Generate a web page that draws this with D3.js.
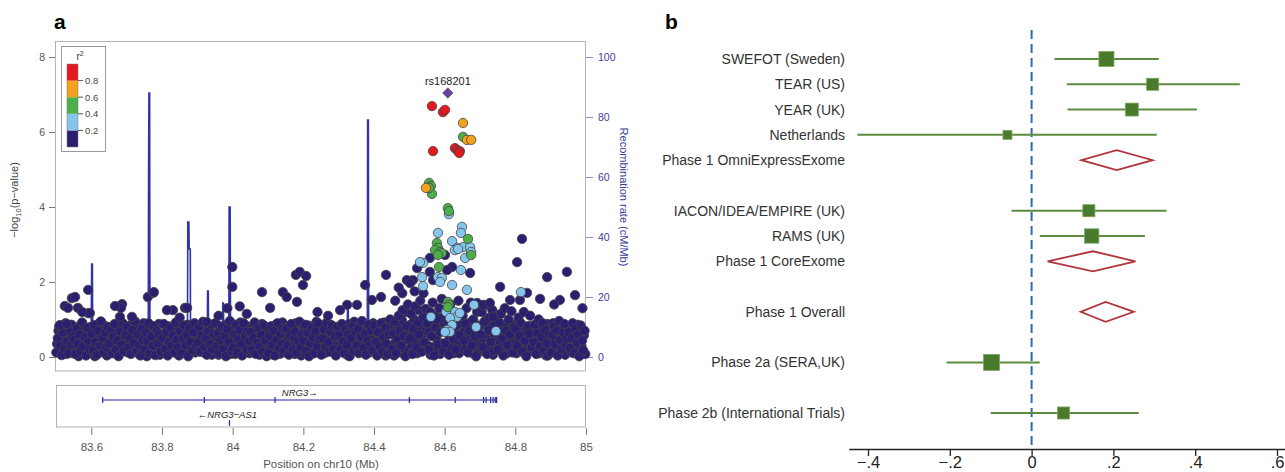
<!DOCTYPE html>
<html>
<head>
<meta charset="utf-8">
<script src="https://cdn.jsdelivr.net/npm/d3@7"></script>
<style>
  body { margin: 0; background: #fff; }
  svg { display: block; font-family: "Liberation Sans", Arial, sans-serif; }
</style>
</head>
<body>
<svg id="chart" width="1285" height="472"></svg>
<script>
// ---------- panel a : regional association plot ----------
const yTicks = [0, 2, 4, 6, 8];
const recTicks = [0, 20, 40, 60, 80, 100];
const posTicks = [83.6, 83.8, 84, 84.2, 84.4, 84.6, 84.8, 85];
const ldBreaks = [0.2, 0.4, 0.6, 0.8];
const ldColors = ['#2b1f72', '#87c6ec', '#4daf4a', '#f4a21d', '#e3191f'];

// recombination rate (cM/Mb) along chr10 (Mb)
const recomb = [
  [83.500, 1], [83.520, 2], [83.545, 0.5], [83.570, 1], [83.599, 1], [83.600, 15], [83.601, 31], [83.603, 31], [83.604, 1],
  [83.630, 0.5], [83.660, 1], [83.700, 1.5], [83.730, 1], [83.761, 1], [83.762, 60], [83.763, 88], [83.765, 88], [83.766, 1],
  [83.800, 1], [83.840, 1.5], [83.872, 1], [83.873, 45], [83.876, 45], [83.877, 36], [83.880, 36], [83.881, 1],
  [83.900, 1], [83.928, 1], [83.929, 22], [83.931, 22], [83.932, 1], [83.950, 1], [83.971, 1], [83.972, 18], [83.974, 18], [83.975, 1],
  [83.989, 1], [83.990, 50], [83.993, 50], [83.994, 1], [84.020, 1], [84.060, 1.5], [84.100, 1], [84.150, 2], [84.200, 1],
  [84.250, 1], [84.300, 1], [84.324, 1], [84.325, 16], [84.327, 16], [84.328, 1], [84.360, 1], [84.381, 1], [84.382, 79], [84.384, 79], [84.385, 1],
  [84.420, 1], [84.460, 2], [84.500, 3], [84.550, 4], [84.600, 5], [84.650, 8], [84.700, 5], [84.750, 3], [84.800, 2],
  [84.850, 1], [84.900, 1], [84.950, 2], [85.000, 1]
];

// low-LD SNPs forming the dense band: segment start, offsets inside each segment, -log10 p per SNP
const bandStarts = [83.50, 83.55, 83.60, 83.65, 83.70, 83.75, 83.80, 83.85, 83.90, 83.95,
  84.00, 84.05, 84.10, 84.15, 84.20, 84.25, 84.30, 84.35, 84.40, 84.45,
  84.50, 84.55, 84.60, 84.65, 84.70, 84.75, 84.80, 84.85, 84.90, 84.95];
const bandOffsets = [0.001, 0.005, 0.009, 0.012, 0.016, 0.020, 0.024, 0.027, 0.031, 0.035, 0.039, 0.042, 0.046];
const bandOffsets2 = [0.003, 0.007, 0.010, 0.014, 0.018, 0.022, 0.026, 0.029, 0.033, 0.037, 0.041, 0.044, 0.048];
const bandValues = [
  [0.12, 0.5, 0.82, 0.3, 0.05, 0.65, 0.22, 0.9, 0.42, 0.1, 0.7, 0.33, 0.55],
  [0.45, 0.08, 0.75, 0.35, 0.6, 0.15, 0.92, 0.28, 0.52, 0.04, 0.78, 0.4, 0.2],
  [0.62, 0.18, 0.85, 0.4, 0.06, 0.7, 0.3, 0.95, 0.5, 0.12, 0.66, 0.25, 0.8],
  [0.35, 0.72, 0.1, 0.55, 0.88, 0.2, 0.45, 0.02, 0.68, 0.32, 0.9, 0.15, 0.58],
  [0.8, 0.25, 0.5, 0.08, 0.72, 0.38, 0.95, 0.16, 0.6, 0.3, 0.04, 0.75, 0.45],
  [0.2, 0.65, 0.42, 0.9, 0.1, 0.55, 0.3, 0.82, 0.05, 0.7, 0.36, 0.6, 0.14],
  [0.5, 0.88, 0.22, 0.66, 0.04, 0.4, 0.78, 0.3, 0.58, 0.12, 0.92, 0.46, 0.26],
  [0.7, 0.1, 0.48, 0.84, 0.32, 0.6, 0.02, 0.76, 0.4, 0.18, 0.66, 0.9, 0.28],
  [0.38, 0.8, 0.15, 0.58, 0.94, 0.26, 0.5, 0.06, 0.7, 0.34, 0.86, 0.2, 0.62],
  [0.9, 0.3, 0.64, 0.1, 0.46, 0.8, 0.22, 0.56, 0.02, 0.74, 0.4, 0.96, 0.16],
  [0.25, 0.6, 0.86, 0.12, 0.48, 0.72, 0.34, 0.04, 0.9, 0.54, 0.2, 0.68, 0.42],
  [0.66, 0.2, 0.5, 0.92, 0.08, 0.38, 0.78, 0.28, 0.6, 0.14, 0.84, 0.44, 0.02],
  [0.1, 0.56, 0.82, 0.32, 0.7, 0.04, 0.46, 0.9, 0.24, 0.62, 0.36, 0.76, 0.18],
  [0.74, 0.3, 0.06, 0.58, 0.88, 0.2, 0.5, 0.68, 0.12, 0.42, 0.94, 0.26, 0.6],
  [0.44, 0.86, 0.16, 0.64, 0.02, 0.36, 0.78, 0.52, 0.1, 0.7, 0.28, 0.9, 0.48],
  [0.06, 0.5, 0.72, 0.26, 0.92, 0.4, 0.14, 0.66, 0.84, 0.22, 0.56, 0.04, 0.8],
  [0.58, 0.2, 0.88, 0.42, 0.1, 0.74, 0.32, 0.6, 0.02, 0.5, 0.82, 0.16, 0.68],
  [0.3, 0.76, 0.12, 0.54, 0.96, 0.24, 0.62, 0.06, 0.44, 0.86, 0.34, 0.7, 0.18],
  [0.84, 0.4, 0.04, 0.66, 0.28, 0.9, 0.14, 0.52, 0.78, 0.36, 0.08, 0.6, 1.0],
  [0.22, 0.62, 0.94, 0.1, 0.48, 1.1, 0.7, 0.3, 1.25, 0.56, 0.02, 0.82, 1.4],
  [0.5, 1.15, 0.08, 0.76, 1.35, 0.26, 0.92, 0.6, 1.5, 0.14, 1.05, 0.4, 1.28],
  [0.9, 0.2, 1.2, 0.56, 1.45, 0.04, 0.8, 1.0, 0.34, 1.3, 0.66, 1.55, 0.16],
  [0.36, 1.25, 0.7, 0.06, 1.4, 0.98, 0.48, 1.12, 0.2, 0.86, 1.5, 0.58, 1.0],
  [1.1, 0.44, 0.88, 1.3, 0.12, 0.7, 1.45, 0.3, 1.0, 0.56, 0.02, 1.2, 0.8],
  [0.6, 1.2, 0.26, 0.94, 1.38, 0.08, 0.72, 1.05, 0.4, 1.25, 0.16, 0.84, 1.1],
  [0.2, 0.92, 1.15, 0.5, 0.04, 1.3, 0.7, 0.32, 1.0, 0.6, 1.22, 0.12, 0.8],
  [0.74, 0.3, 1.05, 0.56, 0.9, 0.14, 1.2, 0.44, 0.02, 0.82, 0.62, 1.1, 0.26],
  [0.4, 0.86, 0.08, 0.64, 1.0, 0.28, 0.52, 0.9, 0.16, 0.72, 0.36, 0.04, 0.6],
  [0.12, 0.58, 0.82, 0.34, 0.7, 0.04, 0.96, 0.46, 0.22, 0.66, 0.88, 0.3, 0.5],
  [0.66, 0.24, 0.5, 0.9, 0.1, 0.76, 0.38, 0.6, 0.02, 0.84, 0.44, 0.18, 0.7]
];
const bandValues2 = [
  [0.35, 0.7, 0.15, 0.6, 0.25, 0.45, 0.78, 0.08, 0.62, 0.2, 0.5, 0.86, 0.1],
  [0.66, 0.26, 0.52, 0.02, 0.84, 0.38, 0.6, 0.12, 0.72, 0.3, 0.58, 0.18, 0.8],
  [0.28, 0.5, 0.02, 0.62, 0.3, 0.9, 0.16, 0.7, 0.24, 0.84, 0.44, 0.04, 0.56],
  [0.8, 0.2, 0.48, 0.3, 0.64, 0.08, 0.84, 0.4, 0.14, 0.56, 0.2, 0.74, 0.36],
  [0.12, 0.56, 0.84, 0.3, 0.46, 0.14, 0.62, 0.44, 0.84, 0.06, 0.56, 0.28, 0.9],
  [0.5, 0.02, 0.76, 0.22, 0.68, 0.38, 0.12, 0.54, 0.42, 0.22, 0.88, 0.06, 0.44],
  [0.18, 0.64, 0.48, 0.12, 0.82, 0.58, 0.2, 0.66, 0.36, 0.8, 0.26, 0.7, 0.04],
  [0.34, 0.56, 0.2, 0.62, 0.14, 0.86, 0.44, 0.24, 0.6, 0.82, 0.3, 0.12, 0.5],
  [0.6, 0.14, 0.44, 0.3, 0.72, 0.1, 0.84, 0.36, 0.22, 0.58, 0.06, 0.44, 0.88],
  [0.2, 0.52, 0.06, 0.82, 0.28, 0.12, 0.68, 0.34, 0.86, 0.24, 0.62, 0.08, 0.5],
  [0.7, 0.08, 0.4, 0.56, 0.22, 0.92, 0.12, 0.64, 0.32, 0.14, 0.82, 0.36, 0.1],
  [0.34, 0.8, 0.12, 0.44, 0.66, 0.2, 0.06, 0.6, 0.88, 0.4, 0.24, 0.66, 0.5],
  [0.72, 0.28, 0.42, 0.06, 0.54, 0.86, 0.22, 0.64, 0.08, 0.44, 0.92, 0.12, 0.56],
  [0.4, 0.62, 0.82, 0.2, 0.34, 0.66, 0.08, 0.9, 0.56, 0.24, 0.6, 0.04, 0.84],
  [0.12, 0.6, 0.36, 0.84, 0.26, 0.56, 0.1, 0.72, 0.32, 0.94, 0.5, 0.16, 0.66],
  [0.76, 0.28, 0.1, 0.58, 0.62, 0.2, 0.86, 0.32, 0.46, 0.72, 0.1, 0.36, 0.52],
  [0.2, 0.7, 0.46, 0.64, 0.22, 0.5, 0.04, 0.88, 0.3, 0.18, 0.62, 0.94, 0.4],
  [0.62, 0.1, 0.4, 0.84, 0.2, 0.74, 0.44, 0.28, 0.8, 0.12, 0.56, 0.46, 0.9],
  [0.24, 0.66, 0.76, 0.12, 0.56, 0.3, 0.62, 0.92, 0.04, 0.6, 0.8, 0.26, 0.3],
  [0.6, 0.04, 0.38, 0.74, 0.86, 0.3, 0.12, 0.98, 0.7, 0.2, 1.2, 0.46, 0.66],
  [0.86, 0.3, 0.64, 1.0, 0.46, 0.1, 1.25, 0.32, 0.82, 0.6, 0.24, 0.96, 0.7],
  [0.3, 0.7, 0.06, 0.96, 0.26, 1.1, 0.5, 0.2, 0.72, 0.08, 1.05, 0.36, 0.9],
  [0.82, 0.12, 0.9, 0.5, 0.26, 0.68, 0.1, 0.82, 0.64, 0.34, 0.1, 0.86, 0.24],
  [0.2, 0.72, 0.3, 0.58, 0.9, 0.38, 0.8, 0.1, 0.66, 0.26, 0.84, 0.46, 0.14],
  [0.3, 0.86, 0.5, 0.14, 0.6, 1.02, 0.3, 0.46, 0.86, 0.06, 0.58, 0.4, 0.92],
  [0.6, 0.4, 0.16, 0.82, 0.3, 0.66, 0.1, 0.9, 0.44, 0.22, 0.5, 0.86, 0.36],
  [0.1, 0.58, 0.46, 0.16, 0.62, 0.34, 0.76, 0.22, 0.68, 0.4, 0.16, 0.82, 0.48],
  [0.7, 0.2, 0.56, 0.36, 0.1, 0.78, 0.18, 0.34, 0.6, 0.04, 0.88, 0.5, 0.26],
  [0.44, 0.9, 0.2, 0.58, 0.12, 0.4, 0.62, 0.14, 0.8, 0.36, 0.06, 0.62, 0.8],
  [0.3, 0.82, 0.12, 0.36, 0.56, 0.28, 0.86, 0.14, 0.46, 0.3, 0.7, 0.58, 0.08]
];

// scattered low-LD SNPs above the band
const navyHigh = [
  [83.545, 1.57], [83.525, 1.36], [83.534, 1.31], [83.562, 1.31], [83.591, 1.79], [83.591, 1.17], [83.596, 1.17],
  [83.511, 0.85], [83.531, 0.88], [83.574, 1.2], [83.554, 1.6],
  [83.760, 1.6], [83.775, 1.71], [83.777, 1.73], [83.687, 1.41], [83.684, 1.31], [83.681, 1.07], [83.715, 1.07], [83.667, 1.36],
  [83.865, 1.31], [83.831, 1.25], [83.814, 1.25], [83.871, 1.31], [83.927, 0.93], [83.85, 1.05],
  [83.999, 2.4], [83.999, 1.87], [83.985, 1.3], [83.96, 1.1], [84.02, 1.35], [84.04, 1.15],
  [84.083, 1.73], [84.106, 1.31], [84.142, 1.73], [84.153, 1.6], [84.182, 1.47], [84.199, 1.92],
  [84.179, 2.19], [84.19, 2.27], [84.208, 2.16], [84.24, 1.2], [84.27, 1.1],
  [84.304, 1.25], [84.324, 1.39], [84.352, 1.39], [84.375, 1.92], [84.394, 1.52], [84.434, 2.19], [84.42, 1.6],
  [84.558, 2.64], [84.522, 2.37], [84.493, 2.05], [84.51, 2.05], [84.502, 1.97], [84.558, 2.27], [84.567, 2.05],
  [84.601, 2.72], [84.621, 2.4], [84.607, 2.32], [84.672, 2.24], [84.692, 1.44], [84.709, 1.39], [84.728, 1.44],
  [84.757, 1.87], [84.737, 1.07], [84.785, 1.52], [84.813, 1.52], [84.833, 1.71], [84.819, 3.15], [84.805, 2.53],
  [84.89, 2.13], [84.48, 1.7], [84.47, 1.85], [84.515, 1.75], [84.54, 1.7], [84.46, 1.5],
  [84.946, 2.27], [84.969, 1.65], [84.926, 1.52], [84.91, 1.4], [84.99, 1.3], [84.87, 1.55]
];

const ltBluePts = [
  [84.612, 3.81], [84.649, 3.47], [84.646, 3.31], [84.581, 3.31], [84.621, 3.09], [84.635, 2.91], [84.652, 2.93],
  [84.672, 2.93], [84.675, 2.80], [84.629, 2.85], [84.638, 2.88], [84.658, 2.64], [84.646, 2.32], [84.539, 2.51],
  [84.530, 2.53], [84.536, 2.13], [84.539, 1.89], [84.581, 2.13], [84.592, 2.11], [84.587, 2.0], [84.621, 1.92],
  [84.663, 1.79], [84.683, 1.39], [84.561, 1.07], [84.629, 1.2], [84.635, 1.07], [84.643, 1.17], [84.604, 1.2],
  [84.615, 1.04], [84.621, 0.85], [84.607, 0.72], [84.615, 0.67], [84.601, 0.67], [84.689, 0.8], [84.745, 0.69],
  [84.816, 1.73]
];
const greenPts = [
  [84.652, 5.87], [84.556, 4.64], [84.561, 4.56], [84.564, 4.35], [84.556, 4.51], [84.609, 3.97], [84.612, 3.89],
  [84.666, 3.15], [84.675, 2.72], [84.578, 3.04], [84.581, 2.91], [84.573, 2.85], [84.587, 2.80], [84.592, 2.77],
  [84.581, 2.72], [84.584, 2.40], [84.609, 1.47], [84.612, 1.39], [84.609, 1.33]
];
const orangePts = [[84.652, 6.24], [84.663, 5.79], [84.675, 5.79], [84.547, 4.51]];
const redPts = [
  [84.564, 6.69], [84.595, 6.53], [84.601, 6.59], [84.567, 5.49], [84.629, 5.57], [84.635, 5.52], [84.643, 5.49], [84.641, 5.44]
];
const indexSnp = { name: 'rs168201', pos: 84.609, logp: 7.04 };

const genes = [
  { name: 'NRG3', start: 83.632, end: 84.747, exons: [83.632, 83.92, 84.12, 84.50, 84.63, 84.71, 84.717, 84.73, 84.737, 84.743, 84.747], dir: 1, label: 84.19 },
  { name: 'NRG3\u2212AS1', start: 83.990, end: 83.992, exons: [83.991], dir: -1, label: 83.985 }
];

// ---------- panel b : forest plot ----------
const studies = ['SWEFOT (Sweden)', 'TEAR (US)', 'YEAR (UK)', 'Netherlands', 'Phase 1 OmniExpressExome',
  'IACON/IDEA/EMPIRE (UK)', 'RAMS (UK)', 'Phase 1 CoreExome', 'Phase 1 Overall', 'Phase 2a (SERA,UK)',
  'Phase 2b (International Trials)'];
const studyRow = [0, 1, 2, 3, 4, 6, 7, 8, 10, 12, 14];
const estimate = [0.183, 0.296, 0.245, -0.059, 0.208, 0.14, 0.147, 0.15, 0.181, -0.098, 0.078];
const ciLow = [0.056, 0.086, 0.088, -0.426, 0.122, -0.049, 0.02, 0.039, 0.12, -0.208, -0.1];
const ciHigh = [0.311, 0.509, 0.404, 0.306, 0.296, 0.33, 0.277, 0.254, 0.25, 0.02, 0.262];
const isPooled = [false, false, false, false, true, false, false, true, true, false, false];
const studyWeight = [21, 13.5, 15.5, 7.5, 0, 13.5, 19, 0, 0, 24, 13.5];
const effectTicks = [-0.4, -0.2, 0, 0.2, 0.4, 0.6];

// ---------- drawing ----------
const svg = d3.select('#chart');

// panel letters
svg.append('text').attr('x', 54).attr('y', 29).attr('font-size', 21).attr('font-weight', 'bold').text('a');
svg.append('text').attr('x', 665).attr('y', 29).attr('font-size', 21).attr('font-weight', 'bold').text('b');

const x = d3.scaleLinear().domain([83.5, 85]).range([56, 586]);
const y = d3.scaleLinear().domain([0, 8]).range([357, 57]);
const yR = d3.scaleLinear().domain([0, 100]).range([357, 57]);

const pa = svg.append('g');

// frame
pa.append('rect').attr('x', 55.5).attr('y', 41.5).attr('width', 530).attr('height', 329.5)
  .attr('fill', 'none').attr('stroke', '#b3b3b3');

// left axis
const gl = pa.append('g').attr('transform', 'translate(55,0)')
  .call(d3.axisLeft(y).tickValues(yTicks).tickSize(6).tickPadding(4));
gl.select('.domain').remove();
gl.selectAll('line').attr('stroke', '#777');
gl.selectAll('text').attr('font-size', 10.5).attr('fill', '#555').attr('font-family', 'Liberation Sans, Arial, sans-serif');

// right axis
const gr = pa.append('g').attr('transform', 'translate(586,0)')
  .call(d3.axisRight(yR).tickValues(recTicks).tickSize(7).tickPadding(5));
gr.select('.domain').remove();
gr.selectAll('line').attr('stroke', '#8b8bc8');
gr.selectAll('text').attr('font-size', 10.5).attr('fill', '#3c3ca0').attr('font-family', 'Liberation Sans, Arial, sans-serif');

// axis titles
const yt = pa.append('text').attr('transform', 'translate(18,200) rotate(-90)')
  .attr('text-anchor', 'middle').attr('font-size', 11).attr('fill', '#444');
yt.append('tspan').text('\u2212log');
yt.append('tspan').attr('font-size', 7.5).attr('dy', 3).text('10');
yt.append('tspan').attr('dy', -3).text('(p\u2212value)');

pa.append('text').attr('transform', 'translate(620,197) rotate(90)')
  .attr('text-anchor', 'middle').attr('font-size', 11).attr('fill', '#3c3ca0')
  .text('Recombination rate (cM/Mb)');

// recombination line
pa.append('path').datum(recomb)
  .attr('fill', 'none').attr('stroke', '#2f33a6').attr('stroke-width', 1.6)
  .attr('d', d3.line().x(d => x(d[0])).y(d => yR(d[1])));

// SNPs
const band1 = bandStarts.flatMap((s, i) => bandValues[i].map((v, j) => [s + bandOffsets[j], v]));
const band2 = bandStarts.flatMap((s, i) => bandValues2[i].map((v, j) => [s + bandOffsets2[j], v]));
const navyPts = band2.concat(band1, navyHigh);
const layers = [
  [navyPts, ldColors[0]], [ltBluePts, ldColors[1]], [greenPts, ldColors[2]],
  [orangePts, ldColors[3]], [redPts, ldColors[4]]
];
layers.forEach(([pts, col]) => {
  pa.append('g').selectAll('circle').data(pts).join('circle')
    .attr('cx', d => x(d[0])).attr('cy', d => y(d[1])).attr('r', 4.7)
    .attr('fill', col).attr('stroke', '#444').attr('stroke-width', 0.8);
});

// index SNP
pa.append('path')
  .attr('d', d3.symbol().type(d3.symbolDiamond2).size(70)())
  .attr('transform', `translate(${x(indexSnp.pos)},${y(indexSnp.logp)})`)
  .attr('fill', '#6b3fa0').attr('stroke', '#444').attr('stroke-width', 0.6);
pa.append('text').attr('x', x(indexSnp.pos)).attr('y', y(indexSnp.logp) - 8)
  .attr('text-anchor', 'middle').attr('font-size', 11).attr('fill', '#222').text(indexSnp.name);

// legend
const lg = pa.append('g');
lg.append('rect').attr('x', 61.5).attr('y', 46.5).attr('width', 44).attr('height', 105)
  .attr('fill', '#fff').attr('stroke', '#999');
lg.append('text').attr('x', 80).attr('y', 60).attr('text-anchor', 'middle').attr('font-size', 10).attr('fill', '#333')
  .text('r').append('tspan').attr('font-size', 7).attr('dy', -4).text('2');
const ly = d3.scaleLinear().domain([0, 1]).range([147, 64]);
lg.selectAll('rect.c').data(ldColors).join('rect').attr('class', 'c')
  .attr('x', 67).attr('y', (d, i) => ly((i + 1) / 5)).attr('width', 11)
  .attr('height', (d, i) => ly(i / 5) - ly((i + 1) / 5)).attr('fill', d => d);
lg.append('rect').attr('x', 67).attr('y', 64).attr('width', 11).attr('height', 83)
  .attr('fill', 'none').attr('stroke', '#777').attr('stroke-width', 0.5);
lg.selectAll('line.t').data(ldBreaks).join('line').attr('class', 't')
  .attr('x1', 78).attr('x2', 83).attr('y1', d => ly(d)).attr('y2', d => ly(d)).attr('stroke', '#555');
lg.selectAll('text.t').data(ldBreaks).join('text').attr('class', 't')
  .attr('x', 85).attr('y', d => ly(d) + 3.5).attr('font-size', 9.5).attr('fill', '#444').text(d => d);

// gene track
pa.append('rect').attr('x', 56.5).attr('y', 385.5).attr('width', 529).attr('height', 41.5)
  .attr('fill', 'none').attr('stroke', '#b3b3b3');
const geneY = [400, 423];
genes.forEach((g, i) => {
  const gy = geneY[i];
  pa.append('line').attr('x1', x(g.start)).attr('x2', x(g.end)).attr('y1', gy).attr('y2', gy)
    .attr('stroke', '#2b2b9c').attr('stroke-width', 1.2);
  pa.selectAll(null).data(g.exons).join('line')
    .attr('x1', d => x(d)).attr('x2', d => x(d)).attr('y1', gy - 3).attr('y2', gy + 3)
    .attr('stroke', '#2b2b9c').attr('stroke-width', 1.2);
  const lbl = g.dir > 0 ? g.name + '\u2192' : '\u2190' + g.name;
  pa.append('text').attr('x', x(g.label)).attr('y', i === 0 ? gy - 4 : gy - 5)
    .attr('text-anchor', 'middle').attr('font-size', 9.5).attr('font-style', 'italic').attr('fill', '#222').text(lbl);
});

// bottom axis
const gb = pa.append('g').attr('transform', 'translate(0,428)')
  .call(d3.axisBottom(x).tickValues(posTicks).tickSize(7).tickPadding(8).tickFormat(d3.format('')));
gb.select('.domain').remove();
gb.selectAll('line').attr('stroke', '#777');
gb.selectAll('text').attr('font-size', 11.5).attr('fill', '#555').attr('font-family', 'Liberation Sans, Arial, sans-serif');
pa.append('text').attr('x', 321).attr('y', 468).attr('text-anchor', 'middle').attr('font-size', 11.5).attr('fill', '#555')
  .text('Position on chr10 (Mb)');

// ---------- panel b ----------
const xf = d3.scaleLinear().domain([-0.4, 0.6]).range([868, 1277]);
const yf = d3.scaleLinear().domain([0, 14]).range([59, 413]);
const sz = d3.scaleSqrt().domain([0, 30]).range([0, 18]);
const pb = svg.append('g');

pb.append('line').attr('x1', xf(0)).attr('x2', xf(0)).attr('y1', 30).attr('y2', 449)
  .attr('stroke', '#2e6aa6').attr('stroke-width', 2).attr('stroke-dasharray', '9,5');

studies.forEach((s, i) => {
  const ry = yf(studyRow[i]);
  pb.append('text').attr('x', 845).attr('y', ry + 5).attr('text-anchor', 'end')
    .attr('font-size', 14).attr('fill', '#333').text(s);
  if (isPooled[i]) {
    const pts = [[xf(ciLow[i]), ry], [xf(estimate[i]), ry - 10], [xf(ciHigh[i]), ry], [xf(estimate[i]), ry + 10]];
    pb.append('path').attr('d', 'M' + pts.join('L') + 'Z')
      .attr('fill', '#fff').attr('stroke', '#b3343d').attr('stroke-width', 1.8);
  } else {
    pb.append('line').attr('x1', xf(ciLow[i])).attr('x2', xf(ciHigh[i])).attr('y1', ry).attr('y2', ry)
      .attr('stroke', '#5d8c3e').attr('stroke-width', 2);
    const w = sz(studyWeight[i]);
    pb.append('rect').attr('x', xf(estimate[i]) - w / 2).attr('y', ry - w / 2).attr('width', w).attr('height', w)
      .attr('fill', '#4a7a2b').attr('stroke', '#7fa764').attr('stroke-width', 0.8);
  }
});

pb.append('line').attr('x1', xf(-0.446)).attr('x2', 1285).attr('y1', 449.5).attr('y2', 449.5)
  .attr('stroke', '#222').attr('stroke-width', 1.3);
const gf = pb.append('g').attr('transform', 'translate(0,449)')
  .call(d3.axisBottom(xf).tickValues(effectTicks).tickSize(7).tickPadding(2)
    .tickFormat(d => d === 0 ? '0' : d3.format('.1f')(d).replace('0.', '.')));
gf.select('.domain').remove();
gf.selectAll('line').attr('stroke', '#222').attr('stroke-width', 1.3);
gf.selectAll('text').attr('font-size', 16.5).attr('fill', '#222').attr('dy', '0.62em')
  .attr('font-family', 'Liberation Sans, Arial, sans-serif');
</script>
</body>
</html>
